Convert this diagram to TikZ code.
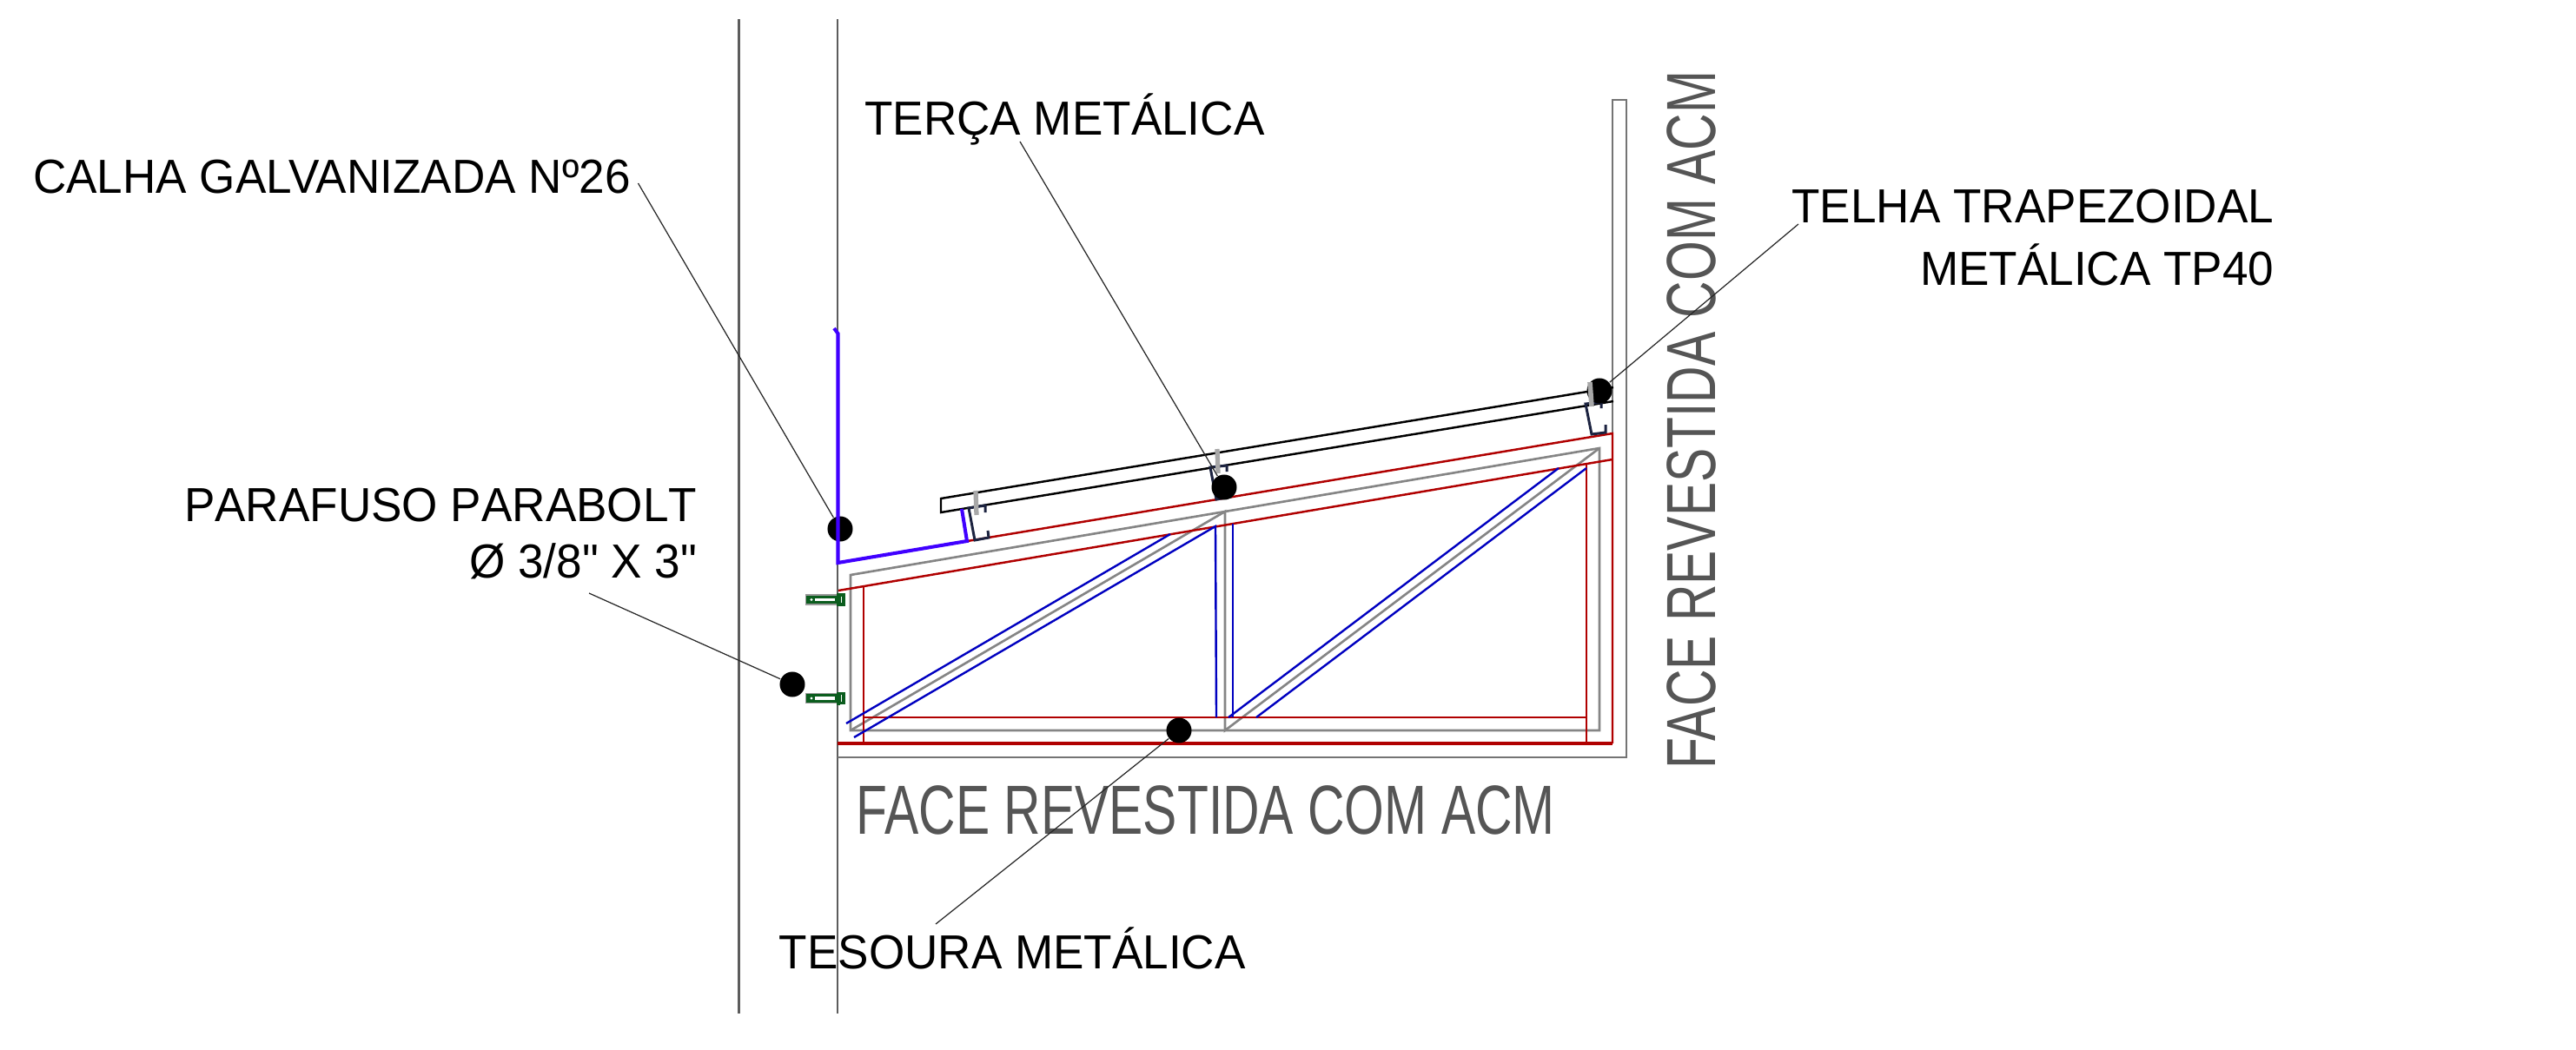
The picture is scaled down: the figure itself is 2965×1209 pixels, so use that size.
\documentclass[tikz,border=0pt]{standalone}
\usepackage{fontspec}
\setmainfont[FakeStretch=0.965]{Liberation Sans}
\newfontfamily\facefont[FakeStretch=0.735]{Liberation Sans}
\newfontfamily\quotefont[FakeStretch=0.965]{Liberation Sans}
\definecolor{wallgray}{HTML}{5C5C5C}
\definecolor{trussgray}{HTML}{858585}
\definecolor{trussred}{HTML}{B00000}
\definecolor{trussblue}{HTML}{0000C0}
\definecolor{gutterblue}{HTML}{4000FF}
\definecolor{purlin}{HTML}{1C2340}
\definecolor{boltgreen}{HTML}{0B5D1E}
\definecolor{screwgray}{HTML}{A8A8A8}
\definecolor{facegray}{HTML}{555555}
\tikzset{
  wall/.style={draw=wallgray,line width=0.8pt},
  gline/.style={draw=trussgray,line width=0.75pt},
  rline/.style={draw=trussred,line width=0.7pt},
  bline/.style={draw=trussblue,line width=0.68pt},
  gutter/.style={draw=gutterblue,line width=1.15pt,line join=miter},
  panel/.style={draw=black,line width=0.7pt},
  cpurlin/.style={draw=purlin,line width=0.85pt,line join=miter},
  screw/.style={draw=screwgray,line width=1.5pt},
  leader/.style={draw=black!85,line width=0.35pt},
  marker/.style={circle,fill=black,inner sep=0pt,minimum size=0.29cm},
  lbl/.style={inner sep=0pt,font=\fontsize{15.65pt}{18pt}\selectfont,text=black},
  facelbl/.style={inner sep=0pt,font=\facefont\fontsize{22.76pt}{26pt}\selectfont,text=facegray},
  boltpic/.pic={
    \draw[draw=black!40,line width=0.6pt] (-34.5,-5) rectangle (0,5);
    \draw[draw=boltgreen,line width=0.95pt,fill=white] (-33,-3.2) rectangle (0,3.2);
    \fill[boltgreen] (-33,-4) rectangle (-25,4);
    \fill[white] (-29,0) circle (1.6);
    \fill[boltgreen] (0,-7.5) rectangle (3.5,7.5);
    \draw[draw=boltgreen,line width=1pt,fill=white] (3.5,-5.5) rectangle (8,5.5);
  }
}
\begin{document}
\begin{tikzpicture}[x=0.01cm,y=-0.01cm]
\useasboundingbox (0,0) rectangle (2965,1209);
% walls
\draw[wall,line width=0.6pt] (850.5,22) -- (850.5,1167);
\draw[wall] (964,22) -- (964,1167);
% cladding outline
\draw[gline,draw=wallgray!85] (1856,498) -- (1856,115) -- (1872,115) -- (1872,872) -- (964,872);
% truss centre lines
\draw[gline] (979,662) -- (1841,516) -- (1841,841) -- (979,841) -- cycle;
\draw[gline] (979,841) -- (1410,589) -- (1410,841) -- (1841,516);
% truss red
\draw[rline] (964,648) -- (1856,499) -- (1856,856);
\draw[rline,line width=0.9pt] (964,856) -- (1856,856);
\draw[rline] (965,680) -- (1856,529);
\draw[rline] (994,675) -- (994,856);
\draw[rline] (994,826) -- (1826,826);
\draw[rline] (1826,533) -- (1826,856);
% truss blue
\draw[bline] (974,833) -- (1347,615);
\draw[bline] (983,849) -- (1399,606) -- (1400,826);
\draw[bline] (1419,603) -- (1419,826);
\draw[bline] (1414,826) -- (1794,539);
\draw[bline] (1446,826) -- (1826,539);
% roof panel
\draw[panel] (1857,446) -- (1083,574) -- (1083,590) -- (1857,462);
% purlins
\draw[cpurlin] (1134,590) -- (1134,582) -- (1115,585) -- (1122,622) -- (1138,619) -- (1137,611);
\draw[cpurlin] (1412,543) -- (1412,536) -- (1393,538) -- (1400,575) -- (1416,572) -- (1415,564);
\draw[cpurlin] (1843,470) -- (1843,463) -- (1825,465) -- (1832,500) -- (1848,498) -- (1848,489);
% markers
\node[marker] (mcalha) at (967,609) {};
\node[marker] (mterca) at (1409,561) {};
\node[marker] (mtelha) at (1841,450) {};
\node[marker] (mparafuso) at (912,788) {};
\node[marker] (mtesoura) at (1357,841) {};
% gutter
\draw[gutter] (960,378) -- (964.5,384) -- (964.5,648) -- (1113,623) -- (1107,586);
% screws
\draw[screw] (1123,565) -- (1124,593);
\draw[screw] (1401,517) -- (1402,545);
\draw[screw,line width=1.6pt] (1830,440) -- (1832,468);
% bolts
\pic at (963,690.5) {boltpic};
\pic at (963,804) {boltpic};
% labels
\node[lbl,anchor=base west] (tcalha) at (37.5,222) {CALHA GALVANIZADA Nº26};
\node[lbl,anchor=base west] (tterca) at (994.5,155) {TERÇA METÁLICA};
\node[lbl,anchor=base east] (ttelhaa) at (2618,256) {TELHA TRAPEZOIDAL};
\node[lbl,anchor=base east] (ttelhab) at (2618,328) {METÁLICA TP40};
\node[lbl,anchor=base east] (tparaa) at (803,600.5) {\addfontfeature{Kerning=Off}PARAFUSO PARABOLT};
\node[lbl,anchor=base east] (tparab) at (803,665) {\quotefont Ø 3/8" X 3"};
\node[lbl,anchor=base west] (ttes) at (896,1115) {TESOURA METÁLICA};
\node[facelbl,anchor=base west] (fbottom) at (985,960) {FACE REVESTIDA COM ACM};
\node[facelbl,anchor=base west,rotate=90] (fright) at (1974,886.5) {FACE REVESTIDA COM ACM};
% leaders
\coordinate (lcalha) at (734.5,211);
\coordinate (lterca) at (1174,163);
\coordinate (ltelha) at (2070,258);
\coordinate (lparafuso) at (678,683);
\coordinate (ltesoura) at (1077,1064);
\draw[leader] (lcalha) -- (mcalha);
\draw[leader] (lterca) -- (mterca);
\draw[leader] (ltelha) -- (mtelha);
\draw[leader] (lparafuso) -- (mparafuso);
\draw[leader] (ltesoura) -- (mtesoura);
\end{tikzpicture}
\end{document}
